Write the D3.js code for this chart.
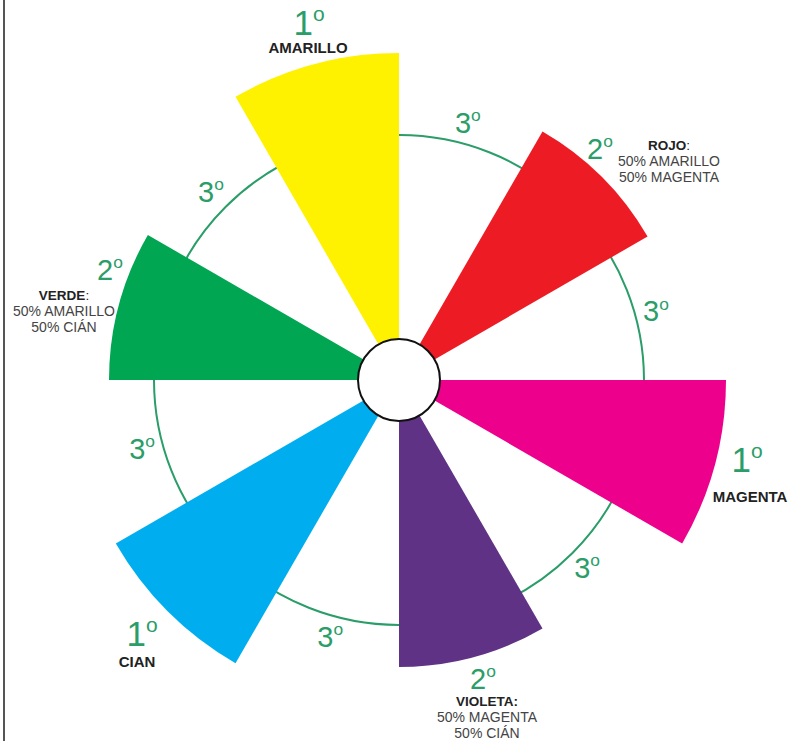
<!DOCTYPE html>
<html>
<head>
<meta charset="utf-8">
<script src="https://cdn.jsdelivr.net/npm/d3@7"></script>
<style>
  body { margin: 0; background: #fff; }
  svg { display: block; font-family: "Liberation Sans", Arial, sans-serif; }
  .mark { fill: #2a9d68; }
  .name { fill: #222; font-weight: bold; }
  .mix { fill: #444; }
</style>
</head>
<body>
<svg id="wheel" width="791" height="741"></svg>
<script>
// colour wheel data
var sectorNames = ["AMARILLO", "ROJO", "MAGENTA", "VIOLETA", "CIAN", "VERDE"];
var sectorStart = [330, 30, 90, 150, 210, 270];   // degrees, clockwise from 12 o'clock
var sectorSpan = 30;
var sectorLength = [327, 287, 327, 287, 327, 290];
var sectorOrder = ["1", "2", "1", "2", "1", "2"];
var sectorColors = ["#fff200", "#ed1c24", "#ec008c", "#5f3285", "#00aeef", "#00a651"];
var sectorMix = [
  [],
  ["50% AMARILLO", "50% MAGENTA"],
  [],
  ["50% MAGENTA", "50% CIÁN"],
  [],
  ["50% AMARILLO", "50% CIÁN"]
];
var tertiaryAngles = [15, 75, 135, 195, 255, 315];
var tertiaryOrder = "3";

// layout
var cx = 399, cy = 380;
var hubRadius = 41;
var ringRadius = 245;
var tertiaryRadius = 266;
// label anchors: [markX, markY, nameX, nameY]
var labelPos = [
  [309, 35, 308, 53],
  [600, 159, 669, 150],
  [747, 472, 750, 502],
  [483, 689, 487, 706],
  [142, 646, 137, 667],
  [110, 280, 64, 300]
];

var svg = d3.select("#wheel");

// page border on the left
svg.append("line")
  .attr("x1", 4).attr("y1", 0)
  .attr("x2", 4).attr("y2", 741)
  .attr("stroke", "#555")
  .attr("stroke-width", 2);

var g = svg.append("g").attr("transform", "translate(" + cx + "," + cy + ")");

var rad = d3.scaleLinear().domain([0, 360]).range([0, 2 * Math.PI]);

// ring of tertiary colours, hidden behind the sectors
g.append("circle")
  .attr("r", ringRadius)
  .attr("fill", "none")
  .attr("stroke", "#2a9d68")
  .attr("stroke-width", 2);

var arc = d3.arc()
  .innerRadius(0)
  .outerRadius(function (d, i) { return sectorLength[i]; })
  .startAngle(function (d, i) { return rad(sectorStart[i]); })
  .endAngle(function (d, i) { return rad(sectorStart[i] + sectorSpan); });

g.selectAll("path.sector")
  .data(sectorNames)
  .enter().append("path")
  .attr("class", "sector")
  .attr("fill", function (d, i) { return sectorColors[i]; })
  .attr("d", arc);

g.append("circle")
  .attr("r", hubRadius)
  .attr("fill", "#fff")
  .attr("stroke", "#111")
  .attr("stroke-width", 2);

// number with a raised small "o"
function orderMark(sel, num, x, y, size) {
  var t = sel.append("text")
    .attr("class", "mark")
    .attr("x", x).attr("y", y)
    .attr("text-anchor", "middle")
    .style("font-size", size + "px");
  t.append("tspan").text(num);
  t.append("tspan")
    .attr("dy", -0.4 * size)
    .style("font-size", (0.6 * size) + "px")
    .text("o");
  return t;
}

sectorNames.forEach(function (name, i) {
  var p = labelPos[i];
  var isPrimary = sectorOrder[i] == "1";
  orderMark(svg, sectorOrder[i], p[0], p[1], isPrimary ? 35 : 29);

  var n = svg.append("text")
    .attr("class", "name")
    .attr("x", p[2]).attr("y", p[3])
    .attr("text-anchor", "middle")
    .style("font-size", isPrimary ? "15px" : "13.5px");
  n.append("tspan").text(name);
  if (!isPrimary) n.append("tspan").style("font-weight", name == "VIOLETA" ? "bold" : "normal").text(":");

  sectorMix[i].forEach(function (line, j) {
    svg.append("text")
      .attr("class", "mix")
      .attr("x", p[2]).attr("y", p[3] + 16 * (j + 1))
      .attr("text-anchor", "middle")
      .style("font-size", "14px")
      .text(line);
  });
});

tertiaryAngles.forEach(function (a) {
  var x = cx + tertiaryRadius * Math.sin(rad(a));
  var y = cy - tertiaryRadius * Math.cos(rad(a));
  orderMark(svg, tertiaryOrder, x, y + 10, 29);
});
</script>
</body>
</html>
